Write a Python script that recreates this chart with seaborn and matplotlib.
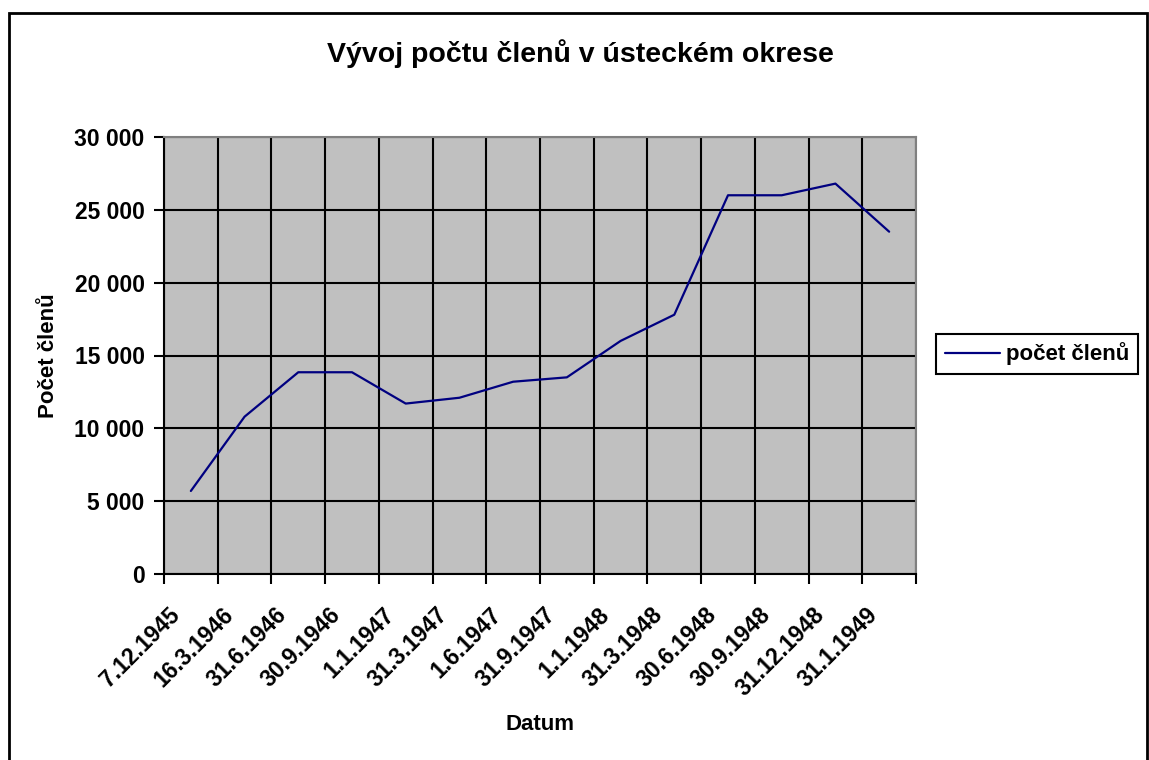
import numpy as np
import pandas as pd
import matplotlib
matplotlib.use('Agg')
import matplotlib.pyplot as plt
import matplotlib.ticker as mticker
import matplotlib.transforms as mtransforms
from matplotlib.patches import Rectangle
import seaborn as sns

# data
dates = ["7.12.1945", "16.3.1946", "31.6.1946", "30.9.1946", "1.1.1947",
         "31.3.1947", "1.6.1947", "31.9.1947", "1.1.1948", "31.3.1948",
         "30.6.1948", "30.9.1948", "31.12.1948", "31.1.1949"]
members = [5700, 10800, 13850, 13850, 11700, 12100, 13200,
           13500, 16000, 17800, 26000, 26000, 26800, 23500]
y_ticks = [0, 5000, 10000, 15000, 20000, 25000, 30000]

df = pd.DataFrame({"Datum": dates, "počet členů": members})

sns.set_theme(style="white")
plt.rcParams['font.family'] = ['Liberation Sans', 'DejaVu Sans']
plt.rcParams['font.weight'] = 'bold'
plt.rcParams['text.color'] = 'black'
plt.rcParams['axes.labelcolor'] = 'black'
plt.rcParams['xtick.color'] = 'black'
plt.rcParams['ytick.color'] = 'black'

fig = plt.figure(figsize=(11.49, 7.60), dpi=100)
ax = fig.add_axes([164 / 1149, 1 - 574 / 760, 752 / 1149, 437 / 760])
ax.set_facecolor('#C0C0C0')

sns.lineplot(data=df, x="Datum", y="počet členů", sort=False, color='#000080',
             linewidth=1.6, ax=ax, label='počet členů')

ax.set_xlim(-0.5, len(dates) - 0.5)
ax.set_ylim(0, 30000)
ax.set_yticks(y_ticks)
ax.yaxis.set_major_formatter(mticker.FuncFormatter(lambda v, p: f"{int(v):,}".replace(',', ' ')))

# category labels at centres, tick marks on boundaries
ax.set_xticks(range(len(dates)))
ax.set_xticklabels(dates, rotation=45, ha='right', va='center', rotation_mode='anchor')
ax.set_xticks(np.arange(-0.5, len(dates), 1), minor=True)
ax.tick_params(axis='x', which='major', length=0, pad=27, labelsize=16.5, labelcolor='black')
ax.tick_params(axis='x', which='minor', length=7, width=1.5, color='black', bottom=True)
ax.tick_params(axis='y', which='major', length=7, width=1.5, color='black', left=True, pad=7,
               labelsize=16.5, labelcolor='black')
shift = mtransforms.ScaledTranslation(-0.15, 0, fig.dpi_scale_trans)
for lab in ax.get_xticklabels():
    lab.set_transform(lab.get_transform() + shift)
    lab.set_fontweight('bold')
for lab in ax.get_yticklabels():
    lab.set_fontweight('bold')

ax.grid(True, which='minor', axis='x', color='black', linewidth=1.5)
ax.grid(True, which='major', axis='y', color='black', linewidth=1.5)
ax.set_axisbelow(True)

for side in ['left', 'bottom']:
    ax.spines[side].set_color('black')
    ax.spines[side].set_linewidth(1.5)
for side in ['top', 'right']:
    ax.spines[side].set_color('#808080')
    ax.spines[side].set_linewidth(1.5)

ax.set_xlabel('Datum', fontsize=16, fontweight='bold', va='center', color='black')
ax.xaxis.set_label_coords(0.5, (574 - 725) / 437)
ax.set_ylabel('Počet členů', fontsize=16, fontweight='bold', va='center', color='black')
ax.yaxis.set_label_coords((48 - 164) / 752, 0.5)

fig.text(580 / 1149, 1 - 54 / 760, 'Vývoj počtu členů v ústeckém okrese',
         fontsize=20.5, fontweight='bold', ha='center', va='center', color='black')

leg = ax.legend(loc='center left', bbox_to_anchor=(936 / 1149, 1 - 354 / 760),
                bbox_transform=fig.transFigure, frameon=True, fancybox=False,
                edgecolor='black', framealpha=1, facecolor='white',
                prop={'weight': 'bold', 'size': 16}, handlelength=2.5,
                handletextpad=0.25, borderpad=0.4, borderaxespad=0)
leg.get_frame().set_linewidth(1.5)
for t in leg.get_texts():
    t.set_color('black')

# outer chart border
fig.add_artist(Rectangle((9 / 1149, -0.05), 1138 / 1149, 747 / 760 + 0.05,
                         transform=fig.transFigure, fill=False,
                         edgecolor='black', linewidth=2))

fig.savefig('out.png', dpi=100)
